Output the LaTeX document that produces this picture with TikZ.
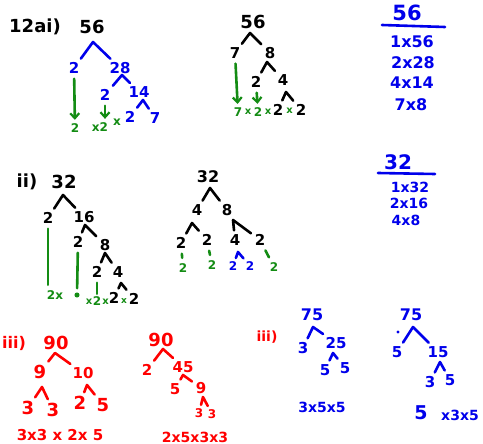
\documentclass[tikz,border=0pt]{standalone}
\usepackage{fontspec}
\setmainfont{DejaVu Sans}
\usetikzlibrary{arrows.meta}
\definecolor{bl}{RGB}{0,0,235}
\definecolor{gr}{RGB}{20,140,20}
\definecolor{rd}{RGB}{255,0,0}
\tikzset{
  fs/.style={font=\bfseries\fontsize{#1}{#1}\selectfont},
  n/.style={inner sep=2pt, fs=15},
  big/.style={inner sep=2pt, fs=18},
  sm/.style={inner sep=1.5pt, fs=12},
  ln/.style={line width=2.6pt, line cap=round, line join=round},
  leg/.style={ln, shorten <=2pt, shorten >=2pt},
  arr/.style={ln, gr, shorten <=3pt, shorten >=2pt, -{Straight Barb[length=5pt,width=9pt,line width=2.2pt]}},
  gl/.style={ln, gr, shorten <=3pt, shorten >=4pt},
  dotn/.style={circle, inner sep=#1, minimum size=0pt}
}
\begin{document}
\begin{tikzpicture}[x=1pt,y=-1pt]
\useasboundingbox (0,0) rectangle (483,444);

% ---------- 12 a i) first tree
\node[big] (l1) at (35,27) {12ai)};
\node[big] (t56) at (92,27) {56};
\coordinate (a1) at (93,42);
\node[n,bl] (b2) at (74,68) {2};
\node[n,bl] (b28) at (120,68) {28};
\draw[leg,bl] (b2) -- (a1) -- (b28);
\coordinate (a2) at (122,75);
\node[n,bl] (b2b) at (105,95) {2};
\node[n,bl] (b14) at (139,92) {14};
\draw[leg,bl] (b2b) -- (a2) -- (b14);
\coordinate (a3) at (143,100);
\node[n,bl] (b2c) at (130,117) {2};
\node[n,bl] (b7) at (155,118) {7};
\draw[leg,bl] (b2c) -- (a3) -- (b7);
\node[sm,gr] (g2) at (75,128) {2};
\node[sm,gr] (gx2) at (100,127) {x2};
\node[sm,gr] (gx3) at (117,122) {x};
\draw[arr] (b2) -- (g2);
\draw[arr] (b2b) -- (gx2.north -| b2b);

% ---------- second tree 56
\node[big] (m56) at (253,22) {56};
\coordinate (m1) at (250,33);
\node[n] (m7) at (235,53) {7};
\node[n] (m8) at (270,53) {8};
\draw[leg] (m7) -- (m1) -- (m8);
\coordinate (m2) at (267,62);
\node[n] (m2a) at (256,82) {2};
\node[n] (m4) at (283,80) {4};
\draw[leg] (m2a) -- (m2) -- (m4);
\coordinate (m3) at (286,92);
\node[n] (mb2a) at (278,110) {2};
\node[n] (mb2b) at (301,110) {2};
\draw[leg] (mb2a) -- (m3) -- (mb2b);
\node[sm,gr] (mg7) at (238,112) {7};
\node[inner sep=1pt,fs=10,gr] (mgx1) at (248,112) {x};
\node[sm,gr] (mg2) at (258,112) {2};
\node[inner sep=1pt,fs=10,gr] (mgx2) at (268,112) {x};
\node[inner sep=1pt,fs=10,gr] (mgx3) at (289.5,111) {x};
\draw[arr] (m7) -- (mg7);
\draw[arr] (m2a) -- (mg2);

% ---------- factor list 56
\node[inner sep=1pt, fs=21, bl] (r56) at (407,13) {56};
\draw[ln,bl] (382,25) -- (445,27);
\node[inner sep=1pt, fs=16, bl] (r1) at (412,42) {1x56};
\node[inner sep=1pt, fs=16, bl] (r2) at (413,63) {2x28};
\node[inner sep=1pt, fs=16, bl] (r3) at (412,83) {4x14};
\node[inner sep=1pt, fs=16, bl] (r4) at (411,105) {7x8};

% ---------- ii) first tree 32
\node[big] (l2) at (27,182) {ii)};
\node[big] (s32) at (64,182) {32};
\coordinate (s1) at (63,195);
\node[n] (s2a) at (48,218) {2};
\node[n] (s16) at (84,217) {16};
\draw[leg] (s2a) -- (s1) -- (s16);
\coordinate (s2) at (85,225);
\node[n] (s2b) at (78,242) {2};
\node[n] (s8) at (105,245) {8};
\draw[leg] (s2b) -- (s2) -- (s8);
\coordinate (s3) at (105,253);
\node[n] (s2c) at (97,272) {2};
\node[n] (s4) at (118,272) {4};
\draw[leg] (s2c) -- (s3) -- (s4);
\coordinate (s4a) at (121,283);
\node[n] (sb2a) at (114,298) {2};
\node[n] (sb2b) at (134,299) {2};
\draw[leg] (sb2a) -- (s4a) -- (sb2b);
\node[sm,gr] (sg1) at (55,295) {2x};
\node[dotn=1.8pt, fill=gr] (sgd) at (77,295) {};
\node[inner sep=1pt,fs=10,gr] (sgx1) at (89,302) {x};
\node[sm,gr] (sg2) at (97,301) {2};
\node[inner sep=1pt,fs=10,gr] (sgx2) at (105.5,302) {x};
\node[inner sep=1pt,fs=9,gr] (sgx3) at (124,301) {x};
\draw[gl] (s2a) -- (sg1.north -| s2a);
\draw[gl] (s2b) -- (sgd);
\draw[gl, shorten >=1pt] (s2c) -- (sg2);

% ---------- ii) second tree 32
\node[inner sep=2pt, fs=16] (u32) at (208,177) {32};
\coordinate (u1) at (210,188);
\node[n] (u4) at (197,210) {4};
\node[n] (u8) at (227,210) {8};
\draw[leg] (u4) -- (u1) -- (u8);
\coordinate (u2) at (192,223);
\node[n] (u2a) at (181,243) {2};
\node[n] (u2b) at (207,240) {2};
\draw[leg] (u2a) -- (u2) -- (u2b);
\coordinate (u3) at (233,220);
\node[n] (u4b) at (235,240) {4};
\node[n] (u2c) at (260,240) {2};
\draw[leg] (u4b) -- (u3) -- (u2c);
\node[sm,gr] (ug1) at (183,268) {2};
\node[sm,gr] (ug2) at (212,265) {2};
\node[sm,gr] (ug3) at (274,267) {2};
\draw[gl] (u2a) -- (ug1);
\draw[gl] (u2b) -- (ug2);
\draw[gl] (u2c) -- (ug3);
\coordinate (u5) at (238,252);
\node[sm,bl] (ub1) at (233,266) {2};
\node[sm,bl] (ub2) at (250,266) {2};
\draw[leg,bl] (ub1) -- (u5) -- (ub2);

% ---------- factor list 32
\node[inner sep=1pt, fs=20, bl] (q32) at (398,162) {32};
\draw[ln,bl] (378,173) -- (435,174);
\node[inner sep=1pt, fs=14, bl] (q1) at (410,187) {1x32};
\node[inner sep=1pt, fs=14, bl] (q2) at (409,203) {2x16};
\node[inner sep=1pt, fs=14, bl] (q3) at (406,220) {4x8};

% ---------- iii) red trees 90
\node[inner sep=2pt, fs=16, rd] (l3) at (14,343) {iii)};
\node[big,rd] (p90) at (56,343) {90};
\coordinate (p1) at (55,353);
\node[big,rd] (p9) at (40,372) {9};
\node[n,rd] (p10) at (83,373) {10};
\draw[leg,rd] (p9) -- (p1) -- (p10);
\coordinate (p2) at (42,387);
\node[big,rd] (p3a) at (28,408) {3};
\node[big,rd] (p3b) at (53,410) {3};
\draw[leg,rd] (p3a) -- (p2) -- (p3b);
\coordinate (p3) at (87,385);
\node[big,rd] (p2a) at (80,403) {2};
\node[big,rd] (p5) at (103,405) {5};
\draw[leg,rd] (p2a) -- (p3) -- (p5);
\node[inner sep=1pt, fs=15, rd] (pr) at (60,435) {3x3 x 2x 5};

\node[big,rd] (v90) at (161,340) {90};
\coordinate (v1) at (163,349);
\node[n,rd] (v2) at (147,370) {2};
\node[n,rd] (v45) at (183,367) {45};
\draw[leg,rd] (v2) -- (v1) -- (v45);
\coordinate (v2a) at (183,375);
\node[n,rd] (v5) at (175,389) {5};
\node[n,rd] (v9) at (201,388) {9};
\draw[leg,rd] (v5) -- (v2a) -- (v9);
\coordinate (v3) at (203,397);
\node[sm,rd] (v3a) at (199,413) {3};
\node[sm,rd] (v3b) at (212,414) {3};
\draw[leg,rd] (v3a) -- (v3) -- (v3b);
\node[inner sep=1pt, fs=14, rd] (vr) at (195,437) {2x5x3x3};

% ---------- iii) blue trees 75
\node[inner sep=2pt, fs=14, rd] (l4) at (267,337) {iii)};
\node[inner sep=2pt, fs=16, bl] (w75) at (312,315) {75};
\coordinate (w1) at (313,327);
\node[n,bl] (w3) at (303,348) {3};
\node[n,bl] (w25) at (336,343) {25};
\draw[leg,bl] (w3) -- (w1) -- (w25);
\coordinate (w2) at (333,353);
\node[n,bl] (w5a) at (325,370) {5};
\node[n,bl] (w5b) at (345,368) {5};
\draw[leg,bl] (w5a) -- (w2) -- (w5b);
\node[inner sep=1pt, fs=14, bl] (wr) at (322,407) {3x5x5};

\node[inner sep=2pt, fs=16, bl] (z75) at (411,315) {75};
\node[dotn=1.2pt, fill=bl] (zd) at (398,332) {};
\coordinate (z1) at (413,327);
\node[n,bl] (z5) at (397,352) {5};
\node[n,bl] (z15) at (438,352) {15};
\draw[leg,bl] (z5) -- (z1) -- (z15);
\coordinate (z2) at (440,362);
\node[n,bl] (z3) at (430,382) {3};
\node[n,bl] (z5b) at (450,380) {5};
\draw[leg,bl] (z3) -- (z2) -- (z5b);
\node[inner sep=1pt, fs=19, bl] (zr1) at (421,413) {5};
\node[inner sep=1pt, fs=14, bl] (zr2) at (460,415) {x3x5};
\end{tikzpicture}
\end{document}
